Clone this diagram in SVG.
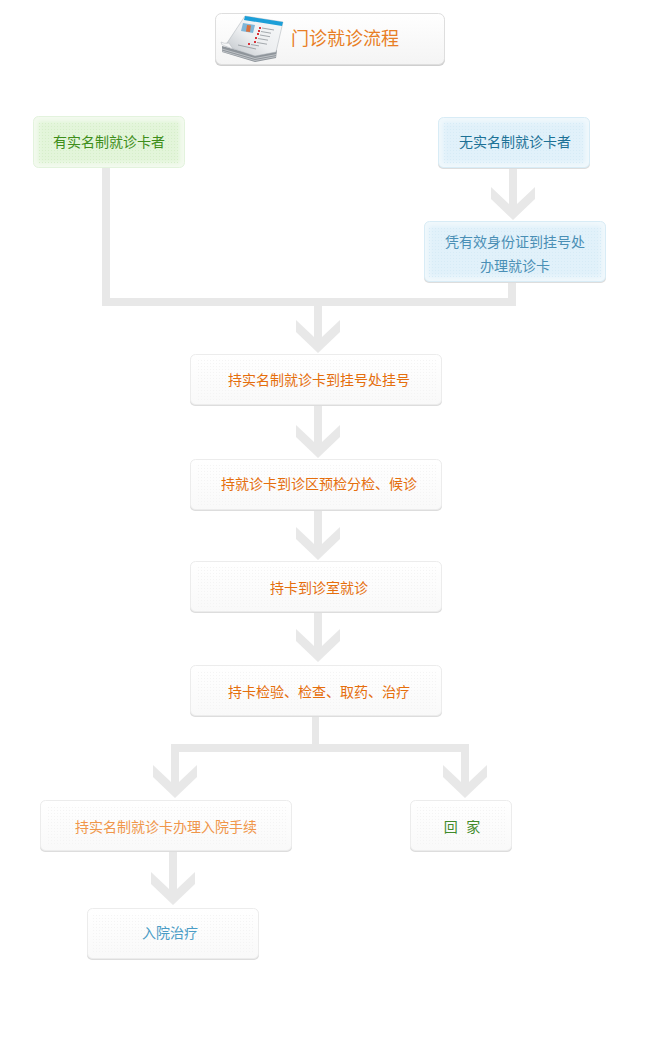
<svg xmlns="http://www.w3.org/2000/svg" width="665" height="1044" viewBox="0 0 665 1044">
<style>
text{font-family:"Noto Sans CJK SC","Noto Sans",sans-serif;font-size:14px;text-anchor:middle}
.line{fill:#e8e8e8;stroke:none}
.shadow{fill:#dddddd}
.w{fill:url(#gw);stroke:#ececec}
.g{fill:#f3faef;stroke:#e3f3dd}
.b{fill:#f0f8fc;stroke:#d8ecf6}
.o{fill:#e56e0c}
</style>
<defs>
<linearGradient id="gw" x1="0" y1="0" x2="0" y2="1"><stop offset="0" stop-color="#fff"/><stop offset="1" stop-color="#f9f9f9"/></linearGradient>
<linearGradient id="gt" x1="0" y1="0" x2="0" y2="1"><stop offset="0" stop-color="#fff"/><stop offset="1" stop-color="#f4f4f4"/></linearGradient>
<linearGradient id="gp" x1="1" y1="0" x2="0" y2="1"><stop offset="0" stop-color="#f8f9fa"/><stop offset=".55" stop-color="#eceef0"/><stop offset="1" stop-color="#bcc1c6"/></linearGradient>
<pattern id="pw" width="3" height="3" patternUnits="userSpaceOnUse"><rect width="1" height="1" fill="#f4f4f4"/></pattern>
<pattern id="pg" width="3" height="3" patternUnits="userSpaceOnUse"><rect width="1" height="1" fill="#d6eeca"/></pattern>
<pattern id="pb" width="3" height="3" patternUnits="userSpaceOnUse"><rect width="1" height="1" fill="#d6ebf6"/></pattern>
<filter id="soft" x="-10%" y="-20%" width="120%" height="140%"><feGaussianBlur stdDeviation="2"/></filter>
<polygon id="head" class="line" points="-22,0 -4,17 -4,-6 4,-6 4,17 22,0 22,12 0,33 -22,12"/>
</defs>
<rect width="665" height="1044" fill="#fff"/>

<g id="connectors">
<path class="line" d="M102 167h8v131h398v-16h8v24H102z"/>
<rect class="line" x="314" y="305" width="8" height="24"/><use href="#head" x="318" y="320"/>
<rect class="line" x="509" y="168" width="8" height="28"/><use href="#head" x="513" y="187"/>
<rect class="line" x="314" y="405" width="8" height="28"/><use href="#head" x="318" y="425"/>
<rect class="line" x="314" y="510" width="8" height="25"/><use href="#head" x="318" y="527"/>
<rect class="line" x="314" y="612" width="8" height="25"/><use href="#head" x="318" y="629"/>
<path class="line" d="M312 716h7v28h150v30h-8v-22H179v22h-8v-30h141z"/>
<use href="#head" x="175" y="765"/><use href="#head" x="465" y="765"/>
<rect class="line" x="169" y="851" width="8" height="28"/><use href="#head" x="173" y="872"/>
</g>

<g id="title">
<rect class="shadow" x="215" y="15" width="230" height="51" rx="6" fill="#cfcfcf" style="fill:#cfcfcf"/>
<rect x="215.500" y="13.500" width="229" height="51" rx="6" fill="url(#gt)" stroke="#dedede"/>
<polygon points="222,46 222,52 255,62 276,58 277,50 255,55" fill="#8e949a"/>
<path d="M222 49L255 58.500L276.500 54.500M222 51L255 60.500L276.300 56.500" stroke="#d4d7da" stroke-width=".7" fill="none"/>
<polygon points="245,16 283,22 276,52 255,56 225,46" fill="url(#gp)" stroke="#a9aeb4" stroke-width=".5"/>
<path d="M225 46Q220.500 45 221 42Q224 44 229 43L233 49z" fill="#f4f5f6" stroke="#b0b5ba" stroke-width=".5"/>
<polygon points="245,16 283,22 282,26 244,20" fill="#1c9fd8"/>
<polygon points="243,23 255,25 253,33 241,31" fill="#7fb6d8"/>
<polygon points="247,25 251,25.500 250,32 246,31.500" fill="#d9703c"/>
<g fill="#d8333a"><rect x="259" y="27" width="2" height="2"/><rect x="258" y="30" width="2" height="2"/><rect x="257" y="33" width="2" height="2"/><rect x="255" y="37" width="2" height="2"/><rect x="254" y="41" width="2" height="2"/><rect x="248" y="43" width="2" height="2"/></g>
<path d="M262 28l12 2M261 31.500l10 1.700M260 35l10 1.700M258 38.500l10 1.700M257 42.500l10 1.700M251 44.500l8 1.400M238 45l18 4" stroke="#8f959b" stroke-width=".8" fill="none"/>
<text x="345" y="45" style="font-size:18px;fill:#e87e25">门诊就诊流程</text>
</g>

<g id="n1">
<rect x="33.500" y="116.500" width="151" height="51" rx="5" class="g"/>
<rect x="38" y="121" width="142" height="42" rx="2" fill="#e3f5da" filter="url(#soft)"/>
<rect x="38" y="121" width="142" height="42" fill="url(#pg)"/>
<text x="109" y="147" fill="#3e8e1a">有实名制就诊卡者</text>
</g>
<g id="n2">
<rect class="shadow" x="438" y="119" width="152" height="50" rx="5"/>
<rect x="438.500" y="117.500" width="151" height="50" rx="5" class="b"/>
<rect x="443" y="122" width="142" height="41" rx="2" fill="#e1f1fa" filter="url(#soft)"/>
<rect x="443" y="122" width="142" height="41" fill="url(#pb)"/>
<text x="515" y="147" fill="#1d7196">无实名制就诊卡者</text>
</g>
<g id="n3">
<rect class="shadow" x="424" y="223" width="182" height="60" rx="5"/>
<rect x="424.500" y="221.500" width="181" height="60" rx="5" class="b"/>
<rect x="429" y="226" width="172" height="51" rx="2" fill="#e1f1fa" filter="url(#soft)"/>
<rect x="429" y="226" width="172" height="51" fill="url(#pb)"/>
<text x="515" y="247" fill="#4a8fb5">凭有效身份证到挂号处</text>
<text x="515" y="271" fill="#4a8fb5">办理就诊卡</text>
</g>
<g id="n4">
<rect class="shadow" x="190" y="356" width="252" height="50" rx="5"/>
<rect x="190.500" y="354.500" width="251" height="50" rx="5" class="w"/>
<rect x="196" y="360" width="240" height="40" fill="url(#pw)"/>
<text x="319" y="385" class="o">持实名制就诊卡到挂号处挂号</text>
</g>
<g id="n5">
<rect class="shadow" x="190" y="461" width="252" height="50" rx="5"/>
<rect x="190.500" y="459.500" width="251" height="50" rx="5" class="w"/>
<rect x="196" y="465" width="240" height="40" fill="url(#pw)"/>
<text x="319" y="489" class="o">持就诊卡到诊区预检分检、候诊</text>
</g>
<g id="n6">
<rect class="shadow" x="190" y="563" width="252" height="50" rx="5"/>
<rect x="190.500" y="561.500" width="251" height="50" rx="5" class="w"/>
<rect x="196" y="567" width="240" height="40" fill="url(#pw)"/>
<text x="319" y="593" class="o">持卡到诊室就诊</text>
</g>
<g id="n7">
<rect class="shadow" x="190" y="667" width="252" height="50" rx="5"/>
<rect x="190.500" y="665.500" width="251" height="50" rx="5" class="w"/>
<rect x="196" y="671" width="240" height="40" fill="url(#pw)"/>
<text x="319" y="697" class="o">持卡检验、检查、取药、治疗</text>
</g>
<g id="n8">
<rect class="shadow" x="40" y="802" width="252" height="50" rx="5"/>
<rect x="40.500" y="800.500" width="251" height="50" rx="5" class="w"/>
<rect x="46" y="806" width="240" height="40" fill="url(#pw)"/>
<text x="166" y="832" fill="#f0964a">持实名制就诊卡办理入院手续</text>
</g>
<g id="n9">
<rect class="shadow" x="410" y="802" width="102" height="50" rx="5"/>
<rect x="410.500" y="800.500" width="101" height="50" rx="5" class="w"/>
<rect x="416" y="806" width="90" height="40" fill="url(#pw)"/>
<text x="462" y="832" fill="#3f8a2a" xml:space="preserve" style="word-spacing:1px">回  家</text>
</g>
<g id="n10">
<rect class="shadow" x="87" y="910" width="172" height="50" rx="5"/>
<rect x="87.500" y="908.500" width="171" height="50" rx="5" class="w"/>
<rect x="93" y="914" width="160" height="40" fill="url(#pw)"/>
<text x="170" y="938" fill="#4a9cc6">入院治疗</text>
</g>
</svg>
